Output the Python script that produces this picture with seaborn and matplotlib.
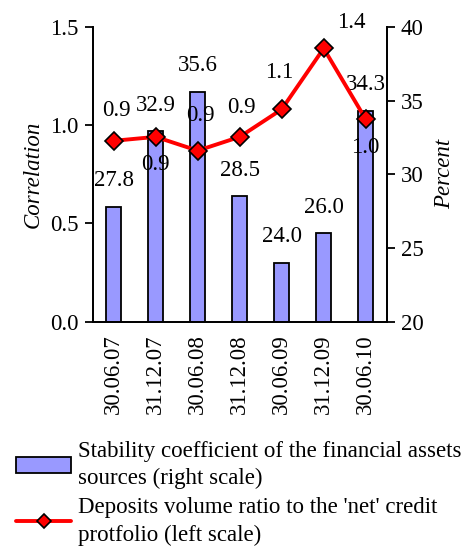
import numpy as np
import pandas as pd
import matplotlib.pyplot as plt
import seaborn as sns

# data
dates = ["30.06.07", "31.12.07", "30.06.08", "31.12.08", "30.06.09", "31.12.09", "30.06.10"]
stability = [27.8, 32.9, 35.6, 28.5, 24.0, 26.0, 34.3]          # percent, right scale
deposits_ratio = [0.92, 0.94, 0.87, 0.94, 1.08, 1.39, 1.03]    # correlation, left scale
deposits_labels = ["0.9", "0.9", "0.9", "0.9", "1.1", "1.4", "1.0"]

# label offsets in pixels (dx, dy) for the line labels
line_label_offsets = [(3, 30), (0, -28), (3, 35), (2, 29), (-3, 37), (28, 26), (0, -28)]

sns.set_style("white")
plt.rcParams["font.family"] = ["Liberation Serif", "DejaVu Serif"]
plt.rcParams["font.size"] = 16.5
plt.rcParams["text.color"] = "black"
plt.rcParams["axes.labelcolor"] = "black"
plt.rcParams["xtick.color"] = "black"
plt.rcParams["ytick.color"] = "black"

fig = plt.figure(figsize=(4.67, 5.47), dpi=100)
ax = fig.add_axes([0.1985, 0.412, 0.6295, 0.539])
ax_r = ax.twinx()

df = pd.DataFrame({"date": dates, "stability": stability, "ratio": deposits_ratio})
pos = np.arange(len(dates))

# bars on the right scale
sns.barplot(data=df, x="date", y="stability", ax=ax_r, color="#9999FF",
            saturation=1, width=0.37, edgecolor="black", linewidth=1.3)
ax_r.set_ylim(20, 40)
ax_r.set_yticks([20, 25, 30, 35, 40])
ax_r.set_ylabel("Percent", fontstyle="italic", labelpad=8)
for x, v in zip(pos, stability):
    ax_r.annotate(f"{v:.1f}", (x, v), xytext=(0, 26), textcoords="offset pixels",
                  ha="center", va="center")

# line on the left scale, drawn above the bars
ax.set_zorder(ax_r.get_zorder() + 1)
ax.patch.set_visible(False)
sns.lineplot(x=pos, y=deposits_ratio, ax=ax, color="#FF0000", linewidth=2.8,
             marker="D", markersize=9, markerfacecolor="#FF0000",
             markeredgecolor="black", markeredgewidth=1.2)
for x, v, lab, (dx, dy) in zip(pos, deposits_ratio, deposits_labels, line_label_offsets):
    ax.annotate(lab, (x, v), xytext=(dx, dy), textcoords="offset pixels",
                ha="center", va="center")
ax.set_ylim(0, 1.5)
ax.set_yticks([0, 0.5, 1.0, 1.5])
ax.set_yticklabels(["0.0", "0.5", "1.0", "1.5"])
ax.set_ylabel("Correlation", fontstyle="italic", labelpad=5)
ax.set_xlim(-0.5, len(dates) - 0.5)

# x axis: labels at category centres, tick marks at boundaries
ax.set_xticks(pos)
ax.set_xticklabels(dates, rotation=90)
ax.set_xticks(np.arange(-0.5, len(dates)), minor=True)
ax.tick_params(axis="x", which="major", length=0, pad=9)
ax.tick_params(axis="x", which="minor", length=6, width=1.3, direction="out")
ax.tick_params(axis="y", length=6, width=1.3, direction="out", left=True, pad=4)
ax_r.tick_params(axis="y", length=6, width=1.3, direction="out", right=True, pad=4)
ax_r.set_xlabel("")
ax.set_xlabel("")

for a in (ax, ax_r):
    a.spines["top"].set_visible(False)
    for side in ("left", "right", "bottom"):
        a.spines[side].set_linewidth(1.3)
        a.spines[side].set_color("black")

# legend below
handles = [
    plt.Rectangle((0, 0), 1, 1, facecolor="#9999FF", edgecolor="black", linewidth=1.3),
    plt.Line2D([], [], color="#FF0000", linewidth=2.8, marker="D", markersize=7,
               markerfacecolor="#FF0000", markeredgecolor="black", markeredgewidth=1.2),
]
labels = ["Stability coefficient of the financial assets\nsources (right scale)",
          "Deposits volume ratio to the 'net' credit\nprotfolio (left scale)"]
leg = fig.legend(handles, labels, loc="upper left", bbox_to_anchor=(0.035, 0.194),
                 frameon=False, handlelength=2.4, handleheight=0.7, handletextpad=0.3,
                 labelspacing=0.35, borderaxespad=0, borderpad=0, fontsize=16.5)
for t in leg.get_texts():
    t.set_linespacing(1.38)

fig.savefig("out.png", dpi=100)
